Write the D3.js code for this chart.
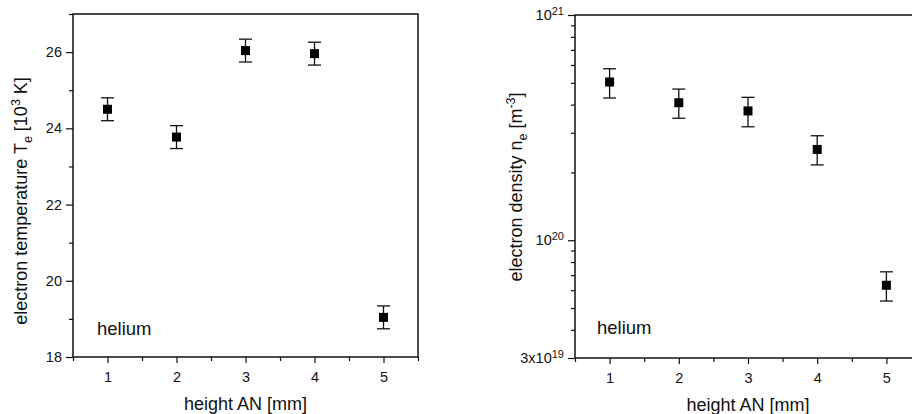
<!DOCTYPE html>
<html lang="en">
<head>
<meta charset="UTF-8">
<title>Electron temperature and density, helium</title>
<style>
    body { margin: 0; background: #fff; }
    svg { display: block; font-family: "Liberation Sans", Arial, sans-serif; }
    .axis path { display: none; }
    .axis line { stroke: #111; stroke-width: 1.2; }
    .axis text { font-size: 14.5px; fill: #111; }
</style>
<script src="https://cdn.jsdelivr.net/npm/d3@7"></script>
</head>
<body>
<script>
    // data
    const heights = [1, 2, 3, 4, 5];
    const tempValues = [24.5, 23.77, 26.04, 25.96, 19.04];   // 10^3 K
    const tempErrors = [0.3, 0.3, 0.3, 0.3, 0.3];
    const densityValues = [5.04e20, 4.08e20, 3.75e20, 2.53e20, 6.31e19];   // m^-3
    const densityLow = [4.28e20, 3.48e20, 3.19e20, 2.16e20, 5.37e19];
    const densityHigh = [5.77e20, 4.69e20, 4.31e20, 2.91e20, 7.24e19];

    const xMajorTicks = [1, 2, 3, 4, 5];
    const xMinorTicks = [0.5, 1.5, 2.5, 3.5, 4.5, 5.5];
    const tempMajorTicks = [18, 20, 22, 24, 26];
    const tempMinorTicks = [19, 21, 23, 25, 27];
    const densityMajorTicks = [3e19, 1e20, 1e21];
    const densityMinorTicks = [4e19, 5e19, 6e19, 7e19, 8e19, 9e19,
        2e20, 3e20, 4e20, 5e20, 6e20, 7e20, 8e20, 9e20];
    // tick labels as [mantissa text, exponent]
    const densityTickLabels = [["3x10", "19"], ["10", "20"], ["10", "21"]];

    const svg = d3.select("body").append("svg")
        .attr("width", 912)
        .attr("height", 414);

    // common x scale maker (both panels share the same height axis)
    function makeX(left, right) {
        return d3.scaleLinear().domain([0.5, 5.5]).range([left, right]);
    }

    function drawFrame(g, x0, y0, x1, y1) {
        g.append("rect")
            .attr("x", x0).attr("y", y0)
            .attr("width", x1 - x0).attr("height", y1 - y0)
            .attr("fill", "none")
            .attr("stroke", "#111")
            .attr("stroke-width", 1.5);
    }

    function drawXAxis(g, x, yPos, titleY) {
        g.append("g").attr("class", "axis")
            .attr("transform", `translate(0,${yPos})`)
            .call(d3.axisBottom(x).tickValues(xMinorTicks).tickSize(4).tickFormat(""));
        const ax = g.append("g").attr("class", "axis")
            .attr("transform", `translate(0,${yPos})`)
            .call(d3.axisBottom(x).tickValues(xMajorTicks).tickSize(6).tickPadding(6).tickFormat(d3.format("d")));
        ax.selectAll("text").attr("dy", "0.9em");
        g.append("text")
            .attr("x", (x(1) + x(5)) / 2)
            .attr("y", titleY)
            .attr("text-anchor", "middle")
            .attr("font-size", 18)
            .attr("fill", "#111")
            .text("height AN [mm]");
    }

    function drawPoints(g, x, y, vals, lo, hi) {
        const pts = g.append("g");
        heights.forEach((h, i) => {
            const cx = x(h);
            pts.append("line")
                .attr("x1", cx).attr("x2", cx)
                .attr("y1", y(hi[i])).attr("y2", y(lo[i]))
                .attr("stroke", "#111").attr("stroke-width", 1.3);
            [hi[i], lo[i]].forEach(v => {
                pts.append("line")
                    .attr("x1", cx - 6.5).attr("x2", cx + 6.5)
                    .attr("y1", y(v)).attr("y2", y(v))
                    .attr("stroke", "#111").attr("stroke-width", 1.3);
            });
            pts.append("rect")
                .attr("x", cx - 4.5).attr("y", y(vals[i]) - 4.5)
                .attr("width", 9).attr("height", 9)
                .attr("fill", "#000");
        });
    }

    // ---- left panel: electron temperature ----
    const left = svg.append("g");
    const xL = makeX(73, 418);
    const yL = d3.scaleLinear().domain([18, 27]).range([357, 14]);

    left.append("g").attr("class", "axis")
        .attr("transform", "translate(73,0)")
        .call(d3.axisLeft(yL).tickValues(tempMinorTicks).tickSize(4).tickFormat(""));
    left.append("g").attr("class", "axis")
        .attr("transform", "translate(73,0)")
        .call(d3.axisLeft(yL).tickValues(tempMajorTicks).tickSize(7).tickPadding(4).tickFormat(d3.format("d")));
    drawXAxis(left, xL, 357, 410);
    drawFrame(left, 73, 14, 418, 357);

    drawPoints(left, xL, yL, tempValues,
        tempValues.map((v, i) => v - tempErrors[i]),
        tempValues.map((v, i) => v + tempErrors[i]));

    left.append("text")
        .attr("x", 97).attr("y", 335)
        .attr("font-size", 18.5).attr("fill", "#111")
        .text("helium");

    const tL = left.append("text")
        .attr("transform", "translate(27,201) rotate(-90)")
        .attr("text-anchor", "middle")
        .attr("font-size", 18).attr("fill", "#111");
    tL.append("tspan").text("electron temperature T");
    tL.append("tspan").attr("dy", 5).attr("font-size", 12.5).text("e");
    tL.append("tspan").attr("dy", -5).text(" [10");
    tL.append("tspan").attr("dy", -7).attr("font-size", 12.5).text("3");
    tL.append("tspan").attr("dy", 7).text(" K]");

    // ---- right panel: electron density (log) ----
    const right = svg.append("g");
    const xR = makeX(575, 921);
    const yR = d3.scaleLog().domain([3e19, 1e21]).range([358, 15]);

    right.append("g").attr("class", "axis")
        .attr("transform", "translate(575,0)")
        .call(d3.axisLeft(yR).tickValues(densityMinorTicks).tickSize(4).tickFormat(""));
    const yAxR = right.append("g").attr("class", "axis")
        .attr("transform", "translate(575,0)")
        .call(d3.axisLeft(yR).tickValues(densityMajorTicks).tickSize(7).tickPadding(4).tickFormat(""));
    yAxR.selectAll(".tick text").each(function (d, i) {
        const t = d3.select(this);
        t.append("tspan").text(densityTickLabels[i][0]);
        t.append("tspan").attr("dy", -5).attr("font-size", 11).text(densityTickLabels[i][1]);
    });
    drawXAxis(right, xR, 358, 411);
    drawFrame(right, 575, 15, 921, 358);

    drawPoints(right, xR, yR, densityValues, densityLow, densityHigh);

    right.append("text")
        .attr("x", 597).attr("y", 334)
        .attr("font-size", 18.5).attr("fill", "#111")
        .text("helium");

    const tR = right.append("text")
        .attr("transform", "translate(522,187) rotate(-90)")
        .attr("text-anchor", "middle")
        .attr("font-size", 18).attr("fill", "#111");
    tR.append("tspan").text("electron density n");
    tR.append("tspan").attr("dy", 5).attr("font-size", 12.5).text("e");
    tR.append("tspan").attr("dy", -5).text(" [m");
    tR.append("tspan").attr("dy", -7).attr("font-size", 12.5).text("-3");
    tR.append("tspan").attr("dy", 7).text("]");
</script>
</body>
</html>
